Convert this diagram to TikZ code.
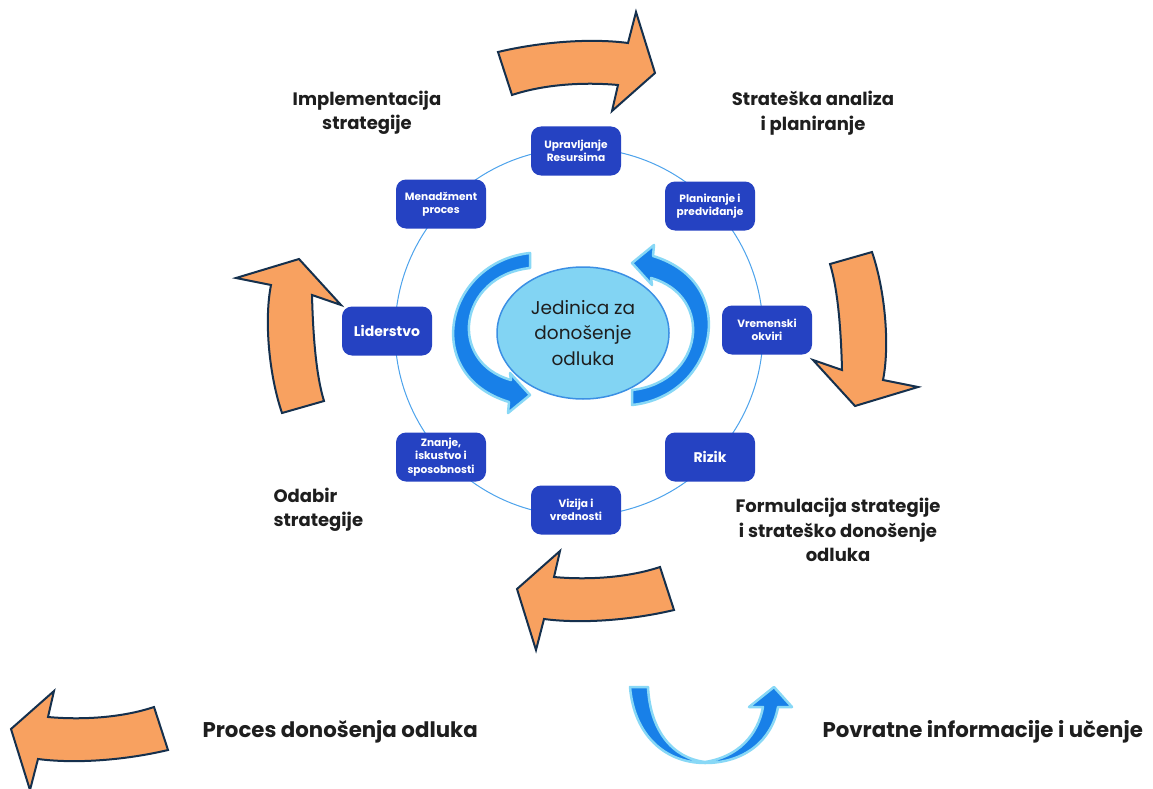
\documentclass[tikz,border=0pt]{standalone}
\usepackage{fontspec}
\setmainfont{Poppins}
\usetikzlibrary{shapes.geometric}

\definecolor{orangefill}{HTML}{F8A160}
\definecolor{navyline}{HTML}{15304D}
\definecolor{boxblue}{HTML}{2542C2}
\definecolor{ringblue}{HTML}{4DA3EC}
\definecolor{coreblue}{HTML}{82D4F3}
\definecolor{coreline}{HTML}{3B8FE4}
\definecolor{swirl}{HTML}{1880E8}
\definecolor{swirlhalo}{HTML}{88D8F6}
\definecolor{ink}{HTML}{1E1E1E}

% outline of the upper curved process arrow (pixel grid, y pointing down)
\def\topbend{(498,52) .. controls (540,42) and (590,38) .. (628,43) -- (636,12) -- (655,73) -- (612,111) -- (618,85) .. controls (585,82) and (545,84) .. (512,95) -- cycle}
% outline of the right-hand curved process arrow
\def\rightbend{(830,264) -- (872,252) .. controls (885,290) and (890,345) .. (883,380) -- (918,387) -- (855,406) -- (813,360) -- (842,370) .. controls (841,330) and (838,290) .. (830,264) -- cycle}
% outline of one feedback swirl around the core unit
\def\swirlpath{(530,253) .. controls (445,262) and (420,375) .. (509,402) -- (508,413) -- (530,395) -- (510,373) -- (511,380) .. controls (447,362) and (458,276) .. (530,268) -- cycle}

\begin{document}
\begin{tikzpicture}[x=1pt,y=-1pt,
  box/.style={fill=boxblue, rounded corners=10, minimum width=90, minimum height=49,
    text=white, align=center, inner sep=0, font=\fontsize{10.6}{13.5}\selectfont\bfseries},
  bigbox/.style={box, font=\fontsize{14}{17}\selectfont\bfseries},
  phase/.style={text=ink, align=center, font=\fontsize{18}{24.5}\selectfont\bfseries},
  legend/.style={text=ink, anchor=west, font=\fontsize{21.3}{25}\selectfont\bfseries},
  orangebend/.style={fill=orangefill, draw=navyline, line width=2, line join=miter},
  swirlarrow/.style={fill=swirl, draw=swirlhalo, line width=2.5, line join=round}]

\fill[white] (0,0) rectangle (1153,789);
\useasboundingbox (0,0) rectangle (1153,789);

% ring linking the factors
\draw[ringblue, line width=1] (579,332) circle[radius=184];

% factors on the ring
\node[box] (res) at (576,151) {Upravljanje\\Resursima};
\node[box] (plan) at (710,206) {Planiranje i\\predviđanje};
\node[box] (men) at (441,204) {Menadžment\\proces};
\node[bigbox] (lid) at (387,331) {Liderstvo};
\node[box] (vrem) at (767,330) {Vremenski\\okviri};
\node[bigbox] (riz) at (710,457) {Rizik};
\node[box] (zna) at (441,457) {Znanje,\\iskustvo i\\sposobnosti};
\node[box] (viz) at (576,510) {Vizija i\\vrednosti};

% process arrows around the cycle
\draw[orangebend] \topbend;
\draw[orangebend, rotate around={180:(586,331)}] \topbend;
\draw[orangebend] \rightbend;
\draw[orangebend, rotate around={180:(577,332.5)}] \rightbend;

% feedback swirls and the core unit
\draw[swirlarrow] \swirlpath;
\draw[swirlarrow, rotate around={180:(581,329)}] \swirlpath;
\node[ellipse, fill=coreblue, draw=coreline, line width=1.5, minimum width=172,
  minimum height=132, inner sep=0, align=center, text=ink,
  font=\fontsize{18.5}{25.5}\selectfont] (unit) at (583,333) {Jedinica za\\donošenje\\odluka};

% phase labels
\node[phase] (impl) at (367,113) {Implementacija\\strategije};
\node[phase] (anal) at (813,113) {Strateška analiza\\i planiranje};
\node[phase, align=left, anchor=west] (odab) at (270,510) {Odabir\\strategije};
\node[phase] (form) at (838,530) {Formulacija strategije\\i strateško donošenje\\odluka};

% legend
\draw[orangebend, shift={(-506,140)}, rotate around={180:(586,331)}] \topbend;
\node[legend] (proc) at (199,732) {Proces donošenja odluka};
\draw[swirlarrow] (630,687) .. controls (634,735) and (665,763) .. (705,763)
  .. controls (745,763) and (772,740) .. (778,707) -- (792,707) -- (774,687)
  -- (749,707) -- (763,707) .. controls (758,735) and (738,757) .. (705,762)
  .. controls (672,758) and (650,730) .. (648,687) -- cycle;
\node[legend] (povr) at (819,732) {Povratne informacije i učenje};
\end{tikzpicture}
\end{document}
